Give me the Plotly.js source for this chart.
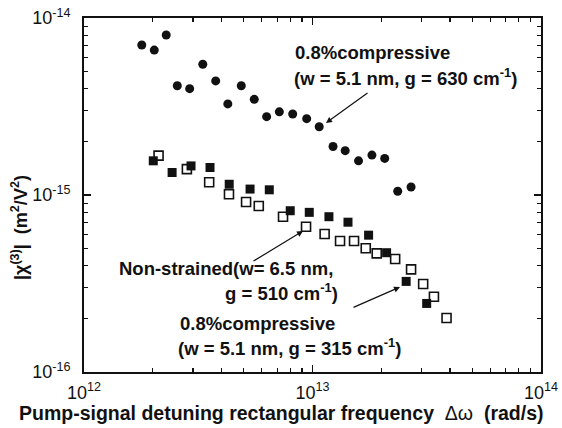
<!DOCTYPE html>
<html><head><meta charset="utf-8">
<script src="https://cdn.plot.ly/plotly-3.0.1.min.js"></script>
<style>body{margin:0;background:#fff}#c{width:562px;height:428px}</style>
</head><body><div id="c"></div>
<script>
// 0.8% compressive, g = 630 cm^-1 (filled circles)
const circX = [1.79e12,2.03e12,2.29e12,2.56e12,2.90e12,3.31e12,3.77e12,4.26e12,4.88e12,5.56e12,6.30e12,7.16e12,8.19e12,9.43e12,1.07e13,1.23e13,1.39e13,1.59e13,1.82e13,2.07e13,2.36e13,2.70e13];
const circY = [7.04e-15,6.59e-15,8.02e-15,4.14e-15,3.99e-15,5.48e-15,4.41e-15,3.27e-15,4.14e-15,3.47e-15,2.77e-15,2.95e-15,2.87e-15,2.70e-15,2.43e-15,1.88e-15,1.78e-15,1.56e-15,1.68e-15,1.61e-15,1.05e-15,1.11e-15];
// 0.8% compressive, g = 315 cm^-1 (filled squares)
const fillX = [2.01e12,2.43e12,2.94e12,3.56e12,4.32e12,5.33e12,6.47e12,7.99e12,9.68e12,1.18e13,1.43e13,1.76e13,2.11e13,2.57e13,3.16e13];
const fillY = [1.56e-15,1.34e-15,1.46e-15,1.43e-15,1.15e-15,1.08e-15,1.07e-15,8.15e-16,7.98e-16,7.54e-16,7.02e-16,5.93e-16,4.72e-16,3.25e-16,2.44e-16];
// Non-strained (open squares)
const openX = [2.12e12,2.82e12,3.53e12,4.31e12,5.12e12,5.82e12,7.43e12,9.37e12,1.13e13,1.32e13,1.52e13,1.71e13,1.91e13,2.30e13,2.70e13,3.05e13,3.40e13,3.86e13];
const openY = [1.67e-15,1.40e-15,1.18e-15,1.01e-15,9.13e-16,8.67e-16,7.54e-16,6.62e-16,6.02e-16,5.50e-16,5.50e-16,5.00e-16,4.68e-16,4.35e-16,3.80e-16,3.14e-16,2.66e-16,2.02e-16];

const xMajor = [1e12,1e13,1e14];
const xMajorText = ['10<sup>12</sup>','10<sup>13</sup>','10<sup>14</sup>'];
const yMajor = [1e-16,1e-15,1e-14];
const yMajorText = ['10<sup>-16</sup>','10<sup>-15</sup>','10<sup>-14</sup>'];
const xTitle = '<b>Pump-signal detuning rectangular frequency</b>  Δω  <b>(rad/s)</b>';
const yTitle = '<b>|χ<sup>(3)</sup>|  (m<sup>2</sup>/V<sup>2</sup>)</b>';

function minors(e0,e1){const v=[];for(let e=e0;e<e1;e++){for(let m=2;m<=9;m++)v.push(m*Math.pow(10,e));}return v;}

const F = 'Liberation Sans, Arial, sans-serif';
const AF = 18.5;
const traces = [
 {x:circX,y:circY,mode:'markers',type:'scatter',marker:{symbol:'circle',size:9,color:'#111'}},
 {x:openX,y:openY,mode:'markers',type:'scatter',marker:{symbol:'square-open',size:9,color:'#111',line:{width:1.6}}},
 {x:fillX,y:fillY,mode:'markers',type:'scatter',marker:{symbol:'square',size:9,color:'#111'}}
];
const axBase = {type:'log',showgrid:false,zeroline:false,showline:true,linecolor:'#111',linewidth:2,mirror:'allticks',ticks:'inside',ticklen:7,tickwidth:1.3,tickcolor:'#111',tickmode:'array',tickfont:{family:F,size:18,color:'#111'}};
const W = 457, H = 354, L = 84, T = 18;
function px(x){return (x-L)/W;}
function py(y){return 1-(y-T)/H;}
const layout = {
 width:562,height:428,margin:{l:L,r:21,t:T,b:56},showlegend:false,
 paper_bgcolor:'#fff',plot_bgcolor:'#fff',
 xaxis:Object.assign({},axBase,{range:[12,14],tickvals:xMajor,ticktext:xMajorText,ticklabelstandoff:3,
   minor:{tickvals:minors(12,14),ticks:'inside',ticklen:4,tickwidth:1.2,tickcolor:'#111'}}),
 yaxis:Object.assign({},axBase,{range:[-16,-14],tickvals:yMajor,ticktext:yMajorText,ticklabelstandoff:8,
   minor:{tickvals:minors(-16,-14),ticks:'inside',ticklen:4,tickwidth:1.2,tickcolor:'#111'}}),
 annotations:[
  {xref:'paper',yref:'paper',x:px(281),y:py(413),xanchor:'center',yanchor:'middle',showarrow:false,
   text:xTitle,font:{family:F,size:19.5,color:'#111'}},
  {xref:'paper',yref:'paper',x:px(19),y:py(228),xanchor:'center',yanchor:'middle',showarrow:false,textangle:-90,
   text:yTitle,font:{family:F,size:18,color:'#111'}},
  {xref:'paper',yref:'paper',x:px(293),y:py(52),xanchor:'left',yanchor:'middle',showarrow:false,align:'left',
   text:'<b>0.8%compressive</b>',font:{family:F,size:AF,color:'#111'}},
  {xref:'paper',yref:'paper',x:px(292),y:py(77),xanchor:'left',yanchor:'middle',showarrow:false,align:'left',
   text:'<b>(w = 5.1 nm, g = 630 cm<sup>-1</sup>)</b>',font:{family:F,size:AF,color:'#111'}},
  {xref:'paper',yref:'paper',x:px(326),y:py(123),ax:px(369),ay:py(92),axref:'paper',ayref:'paper',
   showarrow:true,arrowhead:2,arrowsize:1,arrowwidth:1.2,arrowcolor:'#111',text:''},
  {xref:'paper',yref:'paper',x:px(117),y:py(268),xanchor:'left',yanchor:'middle',showarrow:false,
   text:'<b>Non-strained(w= 6.5 nm,</b>',font:{family:F,size:AF,color:'#111'}},
  {xref:'paper',yref:'paper',x:px(340),y:py(292),xanchor:'right',yanchor:'middle',showarrow:false,
   text:'<b>g = 510 cm<sup>-1</sup>)</b>',font:{family:F,size:AF,color:'#111'}},
  {xref:'paper',yref:'paper',x:px(303),y:py(231),ax:px(252),ay:py(262),axref:'paper',ayref:'paper',
   showarrow:true,arrowhead:2,arrowsize:1,arrowwidth:1.2,arrowcolor:'#111',text:''},
  {xref:'paper',yref:'paper',x:px(178),y:py(323),xanchor:'left',yanchor:'middle',showarrow:false,
   text:'<b>0.8%compressive</b>',font:{family:F,size:AF,color:'#111'}},
  {xref:'paper',yref:'paper',x:px(176),y:py(347),xanchor:'left',yanchor:'middle',showarrow:false,
   text:'<b>(w = 5.1 nm, g = 315 cm<sup>-1</sup>)</b>',font:{family:F,size:AF,color:'#111'}},
  {xref:'paper',yref:'paper',x:px(400),y:py(287),ax:px(352),ay:py(308),axref:'paper',ayref:'paper',
   showarrow:true,arrowhead:2,arrowsize:1,arrowwidth:1.2,arrowcolor:'#111',text:''}
 ]
};
Plotly.newPlot('c',traces,layout,{displayModeBar:false,staticPlot:true});
</script></body></html>
